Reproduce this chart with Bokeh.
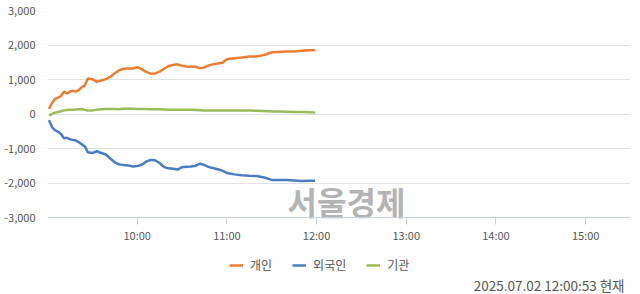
from bokeh.plotting import figure
from bokeh.models import (FixedTicker, NumeralTickFormatter, Legend, LegendItem,
                          Label, Range1d, ColumnDataSource, LinearAxis)
from bokeh.embed import file_html
from bokeh.resources import INLINE

# minutes since 09:00
minutes = [1, 3, 5, 7, 9, 11, 13, 15, 17, 19, 21, 23, 25, 27, 30, 33, 36, 39, 42, 45,
           48, 51, 54, 57, 60, 63, 66, 69, 72, 75, 78, 81, 84, 87, 90, 93, 96, 99, 102,
           105, 108, 111, 114, 117, 120, 125, 130, 135, 140, 145, 150, 155, 160, 165,
           170, 175, 179]

individual = [150, 320, 440, 475, 520, 650, 600, 650, 670, 650, 700, 780, 830, 1030,
              1010, 930, 970, 1010, 1080, 1180, 1270, 1310, 1320, 1320, 1360, 1300,
              1220, 1170, 1175, 1230, 1310, 1390, 1420, 1440, 1400, 1375, 1370, 1370,
              1330, 1350, 1410, 1445, 1465, 1485, 1585, 1615, 1635, 1665, 1670, 1710,
              1790, 1800, 1810, 1815, 1830, 1845, 1845]

foreign = [-180, -380, -470, -510, -580, -700, -690, -730, -750, -770, -820, -880, -940,
           -1110, -1130, -1080, -1130, -1175, -1290, -1400, -1460, -1480, -1490, -1520,
           -1510, -1470, -1380, -1330, -1340, -1420, -1540, -1575, -1585, -1610, -1540,
           -1530, -1520, -1500, -1440, -1480, -1540, -1570, -1600, -1640, -1710, -1750,
           -1775, -1790, -1800, -1840, -1910, -1915, -1915, -1930, -1945, -1935, -1935]

institution = [-40, 0, 40, 60, 80, 105, 115, 120, 125, 130, 140, 145, 120, 100, 105, 125,
               140, 145, 145, 145, 140, 150, 155, 150, 145, 145, 145, 140, 140, 135, 130,
               125, 125, 125, 125, 125, 120, 115, 110, 105, 105, 105, 105, 100, 100, 100,
               100, 100, 95, 85, 75, 70, 65, 60, 55, 50, 45]

series_names = ["개인", "외국인", "기관"]
series_colors = ["#ED7D31", "#4A7CC2", "#9BBB59"]

tick_minutes = [60, 120, 180, 240, 300, 360]
tick_labels = ["10:00", "11:00", "12:00", "13:00", "14:00", "15:00"]
y_ticks = [-3000, -2000, -1000, 0, 1000, 2000, 3000]

watermark = "서울경제"
timestamp = "2025.07.02 12:00:53 현재"

FONT = "Noto Sans CJK KR"
Y_MIN, Y_MAX = -3000, 3000
# the frame extends to the bottom of the picture so the legend and the
# timestamp can sit below the x axis (which is fixed at Y_MIN)
FRAME_H = 284
PLOT_H = 207
y_bottom = Y_MAX - (Y_MAX - Y_MIN) * FRAME_H / PLOT_H

p = figure(width=640, height=294, output_backend="svg", toolbar_location=None,
           x_range=Range1d(0, 390), y_range=Range1d(y_bottom, Y_MAX),
           x_axis_location=None,
           min_border_left=47, min_border_right=10, min_border_top=10,
           min_border_bottom=0)
p.outline_line_color = None
p.background_fill_color = "white"
p.border_fill_color = "white"

src = ColumnDataSource(dict(t=minutes, a=individual, b=foreign, c=institution))
renderers = []
for col, color in zip(["a", "b", "c"], series_colors):
    r = p.line("t", col, source=src, line_color=color, line_width=2.5)
    renderers.append(r)

# x axis fixed at the bottom of the value range
xaxis = LinearAxis(fixed_location=Y_MIN, ticker=FixedTicker(ticks=tick_minutes),
                   major_label_overrides=dict(zip(tick_minutes, tick_labels)))
xaxis.axis_line_color = "#c8d2e4"
xaxis.major_tick_line_color = "#c8d2e4"
xaxis.major_tick_out = 7
xaxis.major_tick_in = 0
xaxis.minor_tick_line_color = None
xaxis.major_label_standoff = 2
xaxis.major_label_text_font = FONT
xaxis.major_label_text_font_size = "11px"
xaxis.major_label_text_color = "#555555"
p.add_layout(xaxis, "below")

p.yaxis.ticker = FixedTicker(ticks=y_ticks)
p.yaxis.formatter = NumeralTickFormatter(format="0,0")
p.yaxis.axis_line_color = None
p.yaxis.major_tick_line_color = None
p.yaxis.minor_tick_line_color = None
p.yaxis.major_label_standoff = 6
p.yaxis.major_label_text_font = FONT
p.yaxis.major_label_text_font_size = "11px"
p.yaxis.major_label_text_color = "#555555"

p.xgrid.grid_line_color = None
p.ygrid.ticker = FixedTicker(ticks=y_ticks)
p.ygrid.grid_line_color = "#e2e2e2"
p.ygrid.grid_line_width = 1

# watermark
p.add_layout(Label(x=299, y=94, x_units="screen", y_units="screen", text=watermark,
                   text_align="center", text_baseline="middle", text_font=FONT,
                   text_font_style="bold", text_font_size="32px",
                   text_color="#b4b4b4", level="underlay"))

# legend
items = [LegendItem(label=n, renderers=[r]) for n, r in zip(series_names, renderers)]
legend = Legend(items=items, orientation="horizontal", location=(182, 21),
                padding=0, margin=0, border_line_color=None, background_fill_alpha=0,
                label_text_font=FONT, label_text_font_size="12px",
                label_text_color="#555555", glyph_width=14, glyph_height=14,
                label_height=14, label_standoff=7, spacing=20)
p.add_layout(legend, "center")

# timestamp
p.add_layout(Label(x=577, y=10, x_units="screen", y_units="screen", text=timestamp,
                   text_align="right", text_baseline="middle", text_font=FONT,
                   text_font_size="13.5px", text_color="#555555"))

open("out.html", "w").write(file_html(p, INLINE))
